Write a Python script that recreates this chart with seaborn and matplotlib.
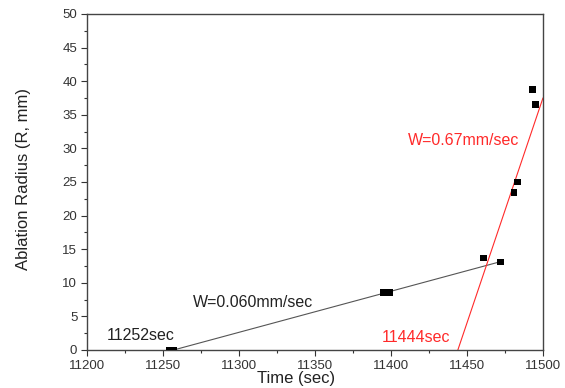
import matplotlib
matplotlib.use("Agg")
import matplotlib.pyplot as plt
import seaborn as sns
import pandas as pd
from matplotlib.ticker import MultipleLocator

# measured points (time in sec, radius in mm)
time_sec = [11254, 11257, 11395, 11399, 11461, 11472, 11481, 11483, 11493, 11495]
radius_mm = [0.0, 0.0, 8.5, 8.5, 13.7, 13.1, 23.4, 25.0, 38.8, 36.5]

# fitted lines (end points)
slow_fit_t = [11257, 11473]
slow_fit_r = [0.0, 13.2]
fast_fit_t = [11444, 11500]
fast_fit_r = [0.0, 37.5]

sns.set_theme(style="ticks")
plt.rcParams["font.family"] = ["Liberation Sans", "DejaVu Sans"]

fig = plt.figure(figsize=(5.65, 3.88), dpi=100)
ax = fig.add_axes([0.154, 0.098, 0.807, 0.866])

df = pd.DataFrame({"Time": time_sec, "Radius": radius_mm})
slow = pd.DataFrame({"Time": slow_fit_t, "Radius": slow_fit_r})
fast = pd.DataFrame({"Time": fast_fit_t, "Radius": fast_fit_r})

sns.lineplot(data=slow, x="Time", y="Radius", color="#555555", linewidth=0.8, ax=ax)
sns.lineplot(data=fast, x="Time", y="Radius", color="#ff2a2a", linewidth=0.8, ax=ax)
sns.scatterplot(data=df, x="Time", y="Radius", marker="s", s=24, color="black",
                edgecolor="none", ax=ax, zorder=3, clip_on=True)

ax.set_xlim(11200, 11500)
ax.set_ylim(0, 50)
ax.xaxis.set_major_locator(MultipleLocator(50))
ax.xaxis.set_minor_locator(MultipleLocator(25))
ax.yaxis.set_major_locator(MultipleLocator(5))
ax.yaxis.set_minor_locator(MultipleLocator(2.5))
ax.tick_params(axis="both", which="major", length=4, width=0.8, labelsize=9.5,
               color="#333333", labelcolor="#333333", pad=3)
ax.tick_params(axis="both", which="minor", length=2.5, width=0.8, color="#333333")
for sp in ax.spines.values():
    sp.set_visible(True)
    sp.set_color("#444444")
    sp.set_linewidth(1.0)

ax.set_xlabel("Time (sec)", fontsize=12, color="#222222")
ax.set_ylabel("Ablation Radius (R, mm)", fontsize=12, color="#222222")
ax.xaxis.set_label_coords(0.458, -0.062)
ax.yaxis.set_label_coords(-0.122, 0.51)

ax.text(11411, 31.2, "W=0.67mm/sec", color="#ff2a2a", fontsize=11.5, va="center")
ax.text(11270, 7.1, "W=0.060mm/sec", color="#222222", fontsize=11.5, va="center")
ax.text(11213, 2.1, "11252sec", color="#222222", fontsize=11.5, va="center")
ax.text(11394, 1.9, "11444sec", color="#ff2a2a", fontsize=11.5, va="center")

fig.savefig("out.png", dpi=100)
